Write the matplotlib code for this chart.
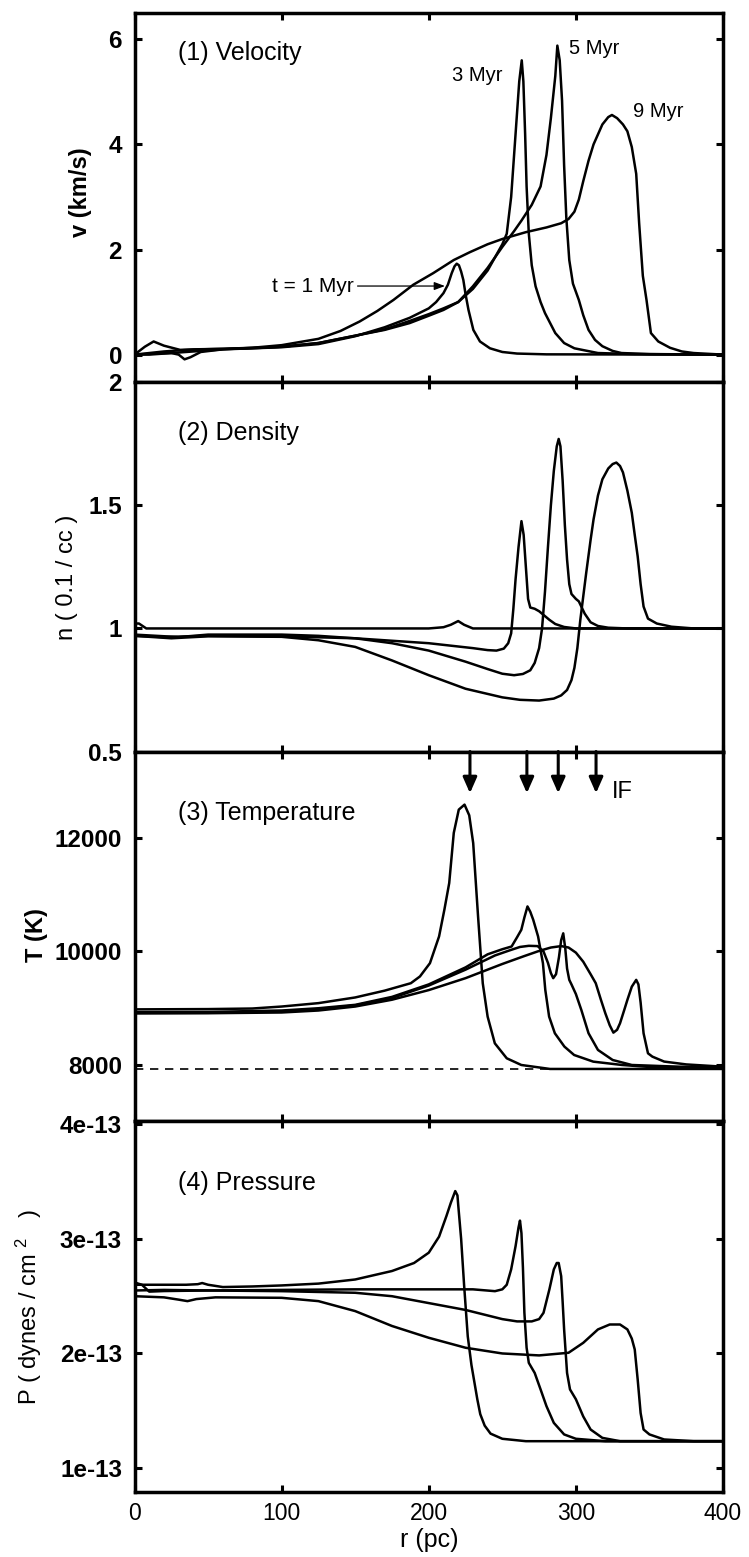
import matplotlib
matplotlib.use("Agg")
import matplotlib.pyplot as plt
import numpy as np

plt.rcParams['font.family'] = ['Liberation Sans', 'DejaVu Sans']
plt.rcParams['mathtext.fontset'] = 'custom'
plt.rcParams['mathtext.rm'] = 'Liberation Sans'
plt.rcParams['mathtext.it'] = 'Liberation Sans:italic'
plt.rcParams['mathtext.bf'] = 'Liberation Sans:bold'

# ---------------- data ----------------
# panel 1: velocity (km/s)
r_v1 = [0, 10, 20, 30, 45, 60, 80, 100, 125, 150, 170, 187, 200, 205, 210, 213, 215.6, 217.5, 219,
        220.5, 222, 223.5, 225, 227, 230.3, 234.8, 241.6, 250, 260, 280, 400]
v_1 = [0, 0.03, 0.06, 0.08, 0.1, 0.11, 0.12, 0.14, 0.2, 0.35, 0.52, 0.7, 0.88, 1.0, 1.17, 1.33, 1.55, 1.68, 1.73,
       1.7, 1.58, 1.42, 1.15, 0.85, 0.47, 0.25, 0.12, 0.05, 0.02, 0.005, 0]
r_v3 = [0, 7, 13, 20, 31, 40, 60, 80, 100, 125, 150, 170, 187, 200, 210, 220, 230, 240, 245, 250, 253, 256, 258,
        260, 261.5, 263.2, 264.3, 265.5, 266.5, 268, 270, 272.6, 276, 279, 286, 292, 299, 315, 340, 400]
v_3 = [0, 0.15, 0.25, 0.17, 0.09, 0.1, 0.11, 0.13, 0.15, 0.22, 0.36, 0.48, 0.64, 0.77, 0.88, 1.0, 1.25, 1.6, 1.85, 2.1, 2.3,
       3.0, 3.8, 4.6, 5.2, 5.6, 5.2, 4.2, 3.2, 2.3, 1.7, 1.3, 1.0, 0.79, 0.41, 0.22, 0.12, 0.03, 0.01, 0]
r_v5 = [0, 15, 25, 30, 34, 38, 45, 60, 80, 100, 125, 150, 170, 187, 200, 210, 220, 230, 240, 250, 258, 263, 270, 276,
        280, 283, 286, 287.4, 289, 290.6, 292, 293.5, 295.5, 298, 302, 305, 308.6, 313, 318, 325, 331, 350, 400]
v_5 = [0, 0.02, 0.03, 0.0, -0.09, -0.05, 0.05, 0.1, 0.12, 0.15, 0.22, 0.36, 0.47, 0.6, 0.74, 0.85, 1.0, 1.3, 1.65, 2.05,
       2.35, 2.55, 2.85, 3.2, 3.8, 4.5, 5.3, 5.88, 5.6, 4.83, 3.6, 2.6, 1.8, 1.35, 1.04, 0.75, 0.47, 0.28, 0.16, 0.07,
       0.03, 0.01, 0]
r_v9 = [0, 10, 20, 40, 60, 80, 100, 125, 140, 153, 165, 176, 189.5, 203, 217, 228, 240, 250, 266, 280, 290, 295, 299,
        302, 305, 308.6, 312, 318, 322, 324.5, 328, 332, 335, 338, 341, 343, 345.5, 348, 351, 356, 364, 372, 380, 400]
v_9 = [0, 0.0, 0.02, 0.06, 0.1, 0.13, 0.18, 0.3, 0.45, 0.63, 0.83, 1.04, 1.33, 1.55, 1.8, 1.95, 2.1, 2.2, 2.33, 2.42,
       2.5, 2.58, 2.72, 2.95, 3.3, 3.69, 4.0, 4.38, 4.52, 4.56, 4.5, 4.38, 4.25, 3.95, 3.44, 2.5, 1.5, 1.04, 0.41, 0.25,
       0.13, 0.06, 0.03, 0]

# panel 2: density (0.1/cc)
r_n1 = [0, 3, 8, 20, 50, 100, 150, 200, 210, 215, 220, 224, 230, 250, 400]
n_1 = [1.02, 1.02, 1.0, 1.0, 1.0, 1.0, 1.0, 1.0, 1.005, 1.015, 1.03, 1.015, 1.0, 1.0, 1.0]
r_n3 = [0, 20, 50, 100, 150, 200, 230, 240, 246, 251, 254, 256, 257.5, 259, 261, 263, 264.5, 266, 267.5, 269, 272,
        275, 278, 282, 286, 292, 300, 400]
n_3 = [0.97, 0.965, 0.97, 0.968, 0.96, 0.94, 0.92, 0.912, 0.91, 0.918, 0.94, 0.98, 1.08, 1.2, 1.33, 1.436, 1.38, 1.25,
       1.12, 1.085, 1.08, 1.07, 1.055, 1.035, 1.018, 1.006, 1.0, 1.0]
r_n5 = [0, 30, 50, 100, 125, 150, 175, 200, 225, 240, 250, 258, 264, 269, 272, 275, 277, 279, 281, 283, 285, 287,
        288.3, 289.5, 291, 292.5, 294, 295.5, 297, 300, 302, 304, 306, 310, 315, 322, 335, 400]
n_5 = [0.975, 0.965, 0.975, 0.975, 0.97, 0.96, 0.94, 0.91, 0.865, 0.835, 0.816, 0.81, 0.815, 0.83, 0.86, 0.92, 1.0,
       1.15, 1.33, 1.5, 1.64, 1.74, 1.77, 1.74, 1.6, 1.42, 1.28, 1.18, 1.14, 1.12, 1.11, 1.085, 1.06, 1.025, 1.01,
       1.003, 1.0, 1.0]
r_n9 = [0, 25, 50, 100, 125, 150, 175, 200, 225, 250, 262, 275, 285, 290, 294, 297, 299, 301, 303, 305, 307, 310, 312,
        315, 318, 322, 325, 327.5, 330, 332, 335, 338, 340, 342, 344, 346, 349, 355, 365, 380, 400]
n_9 = [0.97, 0.96, 0.968, 0.966, 0.952, 0.925, 0.87, 0.81, 0.755, 0.72, 0.71, 0.707, 0.715, 0.728, 0.75, 0.79, 0.84,
       0.92, 1.034, 1.13, 1.225, 1.36, 1.443, 1.54, 1.606, 1.65, 1.668, 1.674, 1.66, 1.634, 1.56, 1.47, 1.38, 1.293,
       1.18, 1.089, 1.04, 1.02, 1.007, 1.0, 1.0]

# panel 3: temperature (K)
r_T1 = [0, 50, 80, 100, 125, 150, 170, 187.8, 194, 200.8, 207, 210.6, 213.9, 217, 220.4, 224.3, 227.5, 230.2,
        233.5, 236.7, 240, 244.9, 253, 262.9, 282.4, 400]
T_1 = [8980, 8985, 8995, 9030, 9090, 9190, 9310, 9441, 9560, 9794, 10265, 10735, 11206, 12090, 12500, 12588, 12400,
       11910, 10620, 9440, 8853, 8382, 8118, 8000, 7930, 7930]
r_T3 = [0, 50, 100, 125, 150, 175, 200, 225, 240, 250, 256.3, 260, 262.9, 265, 267.1, 269, 271, 274.3, 277.6, 279.2,
        281.8, 285.7, 292.2, 298.8, 311.8, 331.4, 350, 400]
T_3 = [8930, 8935, 8960, 9000, 9060, 9200, 9420, 9720, 9950, 10040, 10088, 10250, 10382, 10600, 10794, 10700, 10559,
       10265, 9794, 9324, 8853, 8559, 8324, 8176, 8059, 8000, 7965, 7955]
r_T5 = [0, 50, 100, 125, 150, 175, 200, 225, 245, 255, 262, 268, 274, 278, 281, 283, 284.6, 286.5, 288.5, 290, 291.4,
        292.8, 294, 295.5, 297, 300, 303.7, 308.6, 315, 325, 338, 370, 400]
T_5 = [8915, 8920, 8945, 8985, 9050, 9180, 9400, 9680, 9930, 10020, 10080, 10100, 10095, 10000, 9800, 9620, 9530,
       9600, 9900, 10200, 10320, 10050, 9700, 9500, 9420, 9250, 8970, 8559, 8265, 8088, 8000, 7970, 7960]
r_T9 = [0, 50, 100, 125, 150, 175, 200, 225, 250, 265, 275, 283, 290, 295, 300, 305, 310, 313.5, 317, 320, 323, 325.5,
        328, 330, 333, 335, 338, 341, 342.5, 344, 346, 349, 352, 360, 375, 400]
T_9 = [8910, 8912, 8925, 8960, 9030, 9150, 9320, 9530, 9780, 9920, 10010, 10070, 10095, 10070, 9980, 9820, 9600, 9441,
       9150, 8912, 8700, 8570, 8620, 8735, 8980, 9147, 9380, 9500, 9420, 9100, 8559, 8206, 8147, 8060, 8010, 7970]
T_floor = 7930

# panel 4: pressure (1e-13 dynes/cm^2)
r_P1 = [0, 20, 35, 43, 46, 50, 60, 80, 100, 125, 150, 175, 190, 200, 207, 212, 215, 218, 219.5, 220, 222, 224, 226.5,
        229, 231, 233, 235, 238, 242, 250, 266, 400]
P_1 = [2.6, 2.6, 2.6, 2.605, 2.615, 2.6, 2.58, 2.585, 2.594, 2.61, 2.646, 2.72, 2.79, 2.88, 3.02, 3.2, 3.316, 3.418,
       3.38, 3.3, 3.0, 2.6, 2.15, 1.9, 1.75, 1.6, 1.47, 1.37, 1.3, 1.255, 1.234, 1.234]
r_P3 = [0, 5, 10, 20, 50, 100, 150, 200, 230, 245, 250, 253, 256, 259, 261, 262, 263, 264, 265, 266.5, 268, 272, 276,
        280, 285, 292, 300, 320, 400]
P_3 = [2.62, 2.6, 2.54, 2.545, 2.55, 2.555, 2.56, 2.56, 2.56, 2.544, 2.56, 2.6, 2.734, 2.937, 3.1, 3.16, 3.05, 2.75,
       2.355, 2.05, 1.918, 1.83, 1.686, 1.54, 1.394, 1.293, 1.255, 1.234, 1.234]
r_P5 = [0, 20, 50, 100, 150, 175, 200, 225, 250, 260, 270, 275, 278, 282, 285, 287, 288.3, 290, 291, 292, 294, 296,
        300, 305, 310, 318, 330, 400]
P_5 = [2.55, 2.555, 2.55, 2.544, 2.53, 2.5, 2.44, 2.38, 2.3, 2.28, 2.28, 2.3, 2.355, 2.56, 2.734, 2.79, 2.79, 2.675,
       2.45, 2.21, 1.83, 1.686, 1.6, 1.45, 1.336, 1.263, 1.234, 1.234]
r_P9 = [0, 20, 30, 36, 42, 55, 100, 125, 150, 175, 200, 225, 250, 275, 295, 305, 315, 323, 330, 335, 338, 340, 342,
        344, 346, 350, 360, 380, 400]
P_9 = [2.5, 2.49, 2.47, 2.457, 2.475, 2.49, 2.486, 2.457, 2.37, 2.24, 2.137, 2.05, 2.0, 1.983, 2.006, 2.093, 2.21,
       2.253, 2.253, 2.21, 2.13, 2.035, 1.773, 1.48, 1.336, 1.293, 1.249, 1.234, 1.234]

# ionization front positions (pc)
r_IF = [228, 266.7, 288, 313.7]

x_ticks = [0, 100, 200, 300, 400]

# ---------------- figure ----------------
fig = plt.figure(figsize=(7.49, 15.57), dpi=100)
left, width = 0.1796, 0.7857
ax1 = fig.add_axes([left, 0.75446, width, 0.2370])
ax2 = fig.add_axes([left, 0.51734, width, 0.2371])
ax3 = fig.add_axes([left, 0.28003, width, 0.2373])
ax4 = fig.add_axes([left, 0.04143, width, 0.2386])
axes = [ax1, ax2, ax3, ax4]

lw = 1.8
for r, v in [(r_v1, v_1), (r_v3, v_3), (r_v5, v_5), (r_v9, v_9)]:
    ax1.plot(r, v, "k-", lw=lw)
for r, n in [(r_n1, n_1), (r_n3, n_3), (r_n5, n_5), (r_n9, n_9)]:
    ax2.plot(r, n, "k-", lw=lw)
ax3.plot([0, 400], [T_floor, T_floor], color="k", lw=1.2, ls=(0, (5, 4)))
for r, T in [(r_T1, T_1), (r_T3, T_3), (r_T5, T_5), (r_T9, T_9)]:
    ax3.plot(r, T, "k-", lw=lw)
for r, P in [(r_P1, P_1), (r_P3, P_3), (r_P5, P_5), (r_P9, P_9)]:
    ax4.plot(r, np.array(P) * 1e-13, "k-", lw=lw)

ax1.set_ylim(-0.527, 6.495)
ax1.set_yticks([0, 2, 4, 6])
ax1.set_yticklabels(["0", "2", "4", "6"])
ax2.set_ylim(0.5, 2.0)
ax2.set_yticks([0.5, 1, 1.5, 2])
ax2.set_yticklabels(["0.5", "1", "1.5", "2"])
ax3.set_ylim(7013, 13524)
ax3.set_yticks([8000, 10000, 12000])
ax3.set_yticklabels(["8000", "10000", "12000"])
ax4.set_ylim(0.786e-13, 4.03e-13)
ax4.set_yticks([1e-13, 2e-13, 3e-13, 4e-13])
ax4.set_yticklabels(["1e-13", "2e-13", "3e-13", "4e-13"])

for ax in axes:
    ax.set_xlim(0, 400)
    ax.set_xticks(x_ticks)
    for s in ax.spines.values():
        s.set_linewidth(2.5)
    ax.tick_params(direction="in", length=5, width=2.2, top=True, right=True)
    ax.tick_params(axis="y", pad=9, labelsize=17.5)
    for lab in ax.get_yticklabels():
        lab.set_fontweight("bold")
    if ax is not ax4:
        ax.tick_params(axis="x", labelbottom=False)
ax4.set_xticklabels([str(t) for t in x_ticks])
ax4.tick_params(axis="x", pad=7, labelsize=16.5)
ax4.set_xlabel("r (pc)", fontsize=18, labelpad=2)

# y labels
fig.text(80 / 749, 1 - 192 / 1557, "v (km/s)", rotation=90, ha="center", va="center",
         fontsize=17, fontweight="bold")
fig.text(67 / 749, 1 - 577 / 1557, "n ( 0.1 / cc )", rotation=90, ha="center", va="center", fontsize=17)
fig.text(36 / 749, 1 - 935 / 1557, "T (K)", rotation=90, ha="center", va="center",
         fontsize=17, fontweight="bold")
fig.text(29 / 749, 1 - 1307 / 1557, "P ( dynes / cm $^{2}$   )", rotation=90, ha="center", va="center",
         fontsize=17)

# panel titles
ax1.text(29.6, 5.74, "(1) Velocity", fontsize=18, va="center")
ax2.text(29.6, 1.794, "(2) Density", fontsize=18, va="center")
ax3.text(29.6, 12440, "(3) Temperature", fontsize=18, va="center")
ax4.text(29.6, 3.49e-13, "(4) Pressure", fontsize=18, va="center")

# time labels
ax1.text(216.0, 5.32, "3 Myr", fontsize=14.5, va="center")
ax1.text(295.3, 5.83, "5 Myr", fontsize=14.5, va="center")
ax1.text(338.6, 4.62, "9 Myr", fontsize=14.5, va="center")
ax1.annotate("t = 1 Myr", xy=(211, 1.305), xytext=(93.2, 1.305), fontsize=15, va="center",
             arrowprops=dict(arrowstyle="-|>,head_length=0.8,head_width=0.3", lw=0.9, color="k",
                             shrinkA=1, shrinkB=0, mutation_scale=8))

# IF arrows
for r in r_IF:
    ax3.annotate("", xy=(r, 12790), xytext=(r, 13524),
                 arrowprops=dict(arrowstyle="-|>,head_length=0.95,head_width=0.42", lw=2.2, color="k",
                                 shrinkA=0, shrinkB=0, mutation_scale=10))
ax3.text(324.5, 12810, "IF", fontsize=17, va="center")

fig.savefig("out.png", dpi=100)
